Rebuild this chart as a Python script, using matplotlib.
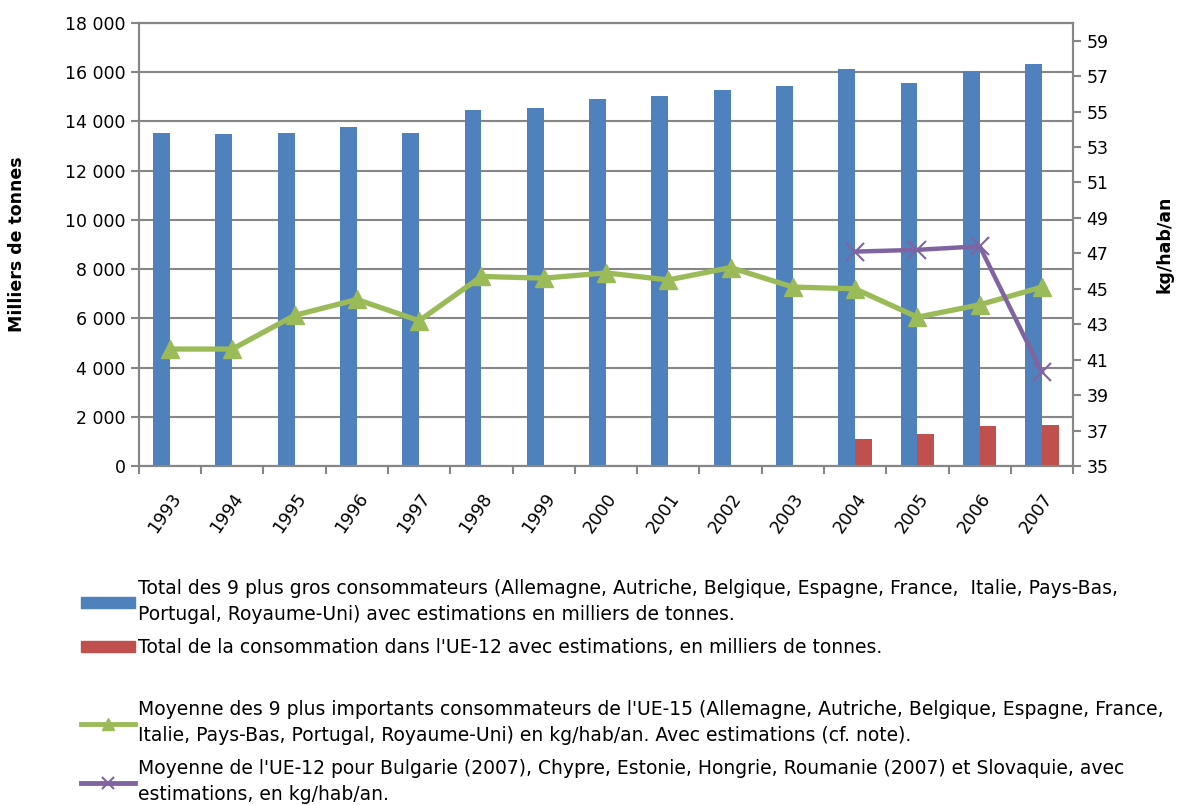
import matplotlib.pyplot as plt
import matplotlib.ticker as mticker
from matplotlib.patches import Patch
from matplotlib.lines import Line2D
import numpy as np

plt.rcParams['font.family'] = ['DejaVu Sans']

annees = ['1993', '1994', '1995', '1996', '1997', '1998', '1999', '2000',
          '2001', '2002', '2003', '2004', '2005', '2006', '2007']
total_9 = [13540, 13490, 13540, 13770, 13540, 14480, 14530, 14900,
           15050, 15270, 15440, 16120, 15570, 16060, 16320]
total_ue12 = [None] * 11 + [1100, 1290, 1630, 1650]
moy_ue15 = [41.6, 41.6, 43.5, 44.4, 43.2, 45.7, 45.6, 45.9,
            45.5, 46.2, 45.1, 45.0, 43.4, 44.1, 45.1]
moy_ue12 = [None] * 11 + [47.1, 47.2, 47.4, 40.3]

lab_bleu = ("Total des 9 plus gros consommateurs (Allemagne, Autriche, Belgique, Espagne, France,  Italie, Pays-Bas,\n"
            "Portugal, Royaume-Uni) avec estimations en milliers de tonnes.")
lab_rouge = "Total de la consommation dans l'UE-12 avec estimations, en milliers de tonnes."
lab_vert = ("Moyenne des 9 plus importants consommateurs de l'UE-15 (Allemagne, Autriche, Belgique, Espagne, France,\n"
            "Italie, Pays-Bas, Portugal, Royaume-Uni) en kg/hab/an. Avec estimations (cf. note).")
lab_violet = ("Moyenne de l'UE-12 pour Bulgarie (2007), Chypre, Estonie, Hongrie, Roumanie (2007) et Slovaquie, avec\n"
              "estimations, en kg/hab/an.")

bleu, rouge, vert, violet = '#4F81BD', '#C0504D', '#9BBB59', '#8064A2'
gris = '#868686'

fig = plt.figure(figsize=(11.77, 8.05), dpi=100)
ax = fig.add_axes([0.118, 0.4211, 0.7937, 0.5503])

x = np.arange(len(annees))
w = 0.27
ax.bar(x - w / 2, total_9, width=w, color=bleu, zorder=2)
x_r = [xi for xi, v in zip(x, total_ue12) if v is not None]
v_r = [v for v in total_ue12 if v is not None]
ax.bar(np.array(x_r) + w / 2, v_r, width=w, color=rouge, zorder=2)

ax.set_xlim(-0.5, len(annees) - 0.5)
ax.set_ylim(0, 18000)
ax.set_yticks(np.arange(0, 18001, 2000))
ax.yaxis.set_major_formatter(mticker.FuncFormatter(lambda v, p: f"{int(v):,}".replace(',', ' ')))
ax.grid(axis='y', color=gris, linewidth=1.5, zorder=0)
ax.set_axisbelow(True)

ax.set_xticks(x)
ax.set_xticklabels(annees, rotation=55, ha='right', rotation_mode='anchor', fontsize=12.5)
ax.tick_params(axis='x', length=0, pad=17)
ax.set_xticks(np.arange(-0.5, len(annees)), minor=True)
ax.tick_params(axis='x', which='minor', length=6, color=gris, width=1.5)
ax.tick_params(axis='y', length=6, color=gris, width=1.5, labelsize=12.5)
for s in ax.spines.values():
    s.set_color(gris)
    s.set_linewidth(1.5)
ax.set_ylabel('Milliers de tonnes', fontsize=12.5, fontweight='bold', labelpad=28)

ax2 = ax.twinx()
ax2.plot(x, moy_ue15, color=vert, linewidth=3.8, marker='^', markersize=13, zorder=3)
x_v = [xi for xi, v in zip(x, moy_ue12) if v is not None]
v_v = [v for v in moy_ue12 if v is not None]
ax2.plot(x_v, v_v, color=violet, linewidth=3.2, marker='x', markersize=13,
         markeredgewidth=1.5, zorder=4)
ax2.set_ylim(35, 60)
ax2.set_yticks(np.arange(35, 60, 2))
ax2.tick_params(axis='y', length=6, color=gris, width=1.5, labelsize=12.5)
for s in ax2.spines.values():
    s.set_color(gris)
    s.set_linewidth(1.5)
ax2.set_ylabel('kg/hab/an', fontsize=12.5, fontweight='bold', labelpad=34)

handles = [
    Patch(color=bleu),
    Patch(color=rouge),
    Line2D([], [], color='none'),
    Line2D([], [], color=vert, linewidth=3.5, marker='^', markersize=8),
    Line2D([], [], color=violet, linewidth=3.5, marker='x', markersize=8, markeredgewidth=1.5),
]
labels = [lab_bleu, lab_rouge, ' ', lab_vert, lab_violet]
leg = fig.legend(handles, labels, loc='upper left', bbox_to_anchor=(81 / 1177, 1 - 579 / 805),
                 frameon=False, fontsize=13.5, handlelength=2.9, handleheight=0.55,
                 handletextpad=0.15, labelspacing=0.75, borderpad=0, borderaxespad=0)
for t in leg.get_texts():
    t.set_linespacing(1.45)
leg.get_texts()[2].set_fontsize(9)

fig.savefig('out.png', dpi=100)
